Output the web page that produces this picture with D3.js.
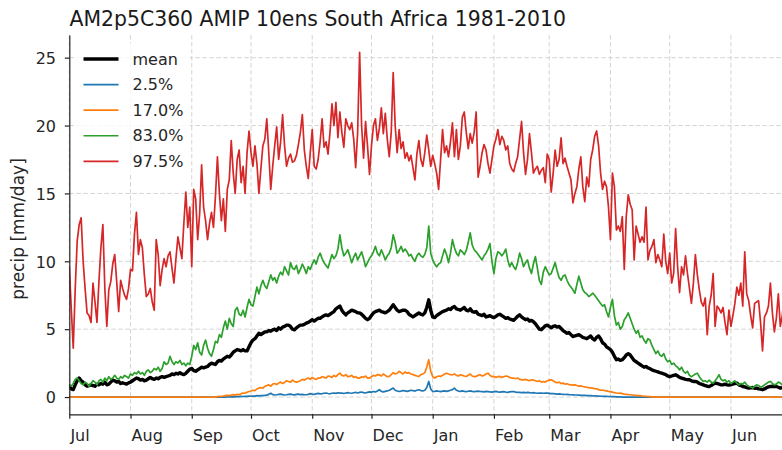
<!DOCTYPE html>
<html>
<head>
<meta charset="utf-8">
<script src="https://cdn.jsdelivr.net/npm/d3@7"></script>
<style>
  body { margin: 0; background: #fff; }
  svg { display: block; font-family: "DejaVu Sans", sans-serif; }
</style>
</head>
<body>
<svg id="chart" width="782" height="450"></svg>
<script>
// Daily climatology, 1 Jul (day 0) .. 30 Jun (day 364), mm/day
const monthLabels = ["Jul","Aug","Sep","Oct","Nov","Dec","Jan","Feb","Mar","Apr","May","Jun"];
const monthStartDays = [0,31,62,92,123,153,184,215,243,274,304,335];
const yTicks = [0,5,10,15,20,25];
const seriesNames = ["mean","2.5%","17.0%","83.0%","97.5%"];

const meanPrecip = [
0.8,0.6,0.55,0.9,1.2,1.4,1.2,1.1,0.9,0.8,
0.85,0.9,0.85,0.8,0.95,0.9,1.0,0.95,1.1,0.9,
0.95,1.1,1.25,1.2,1.1,1.15,1.0,1.05,1.0,0.95,
1.05,1.1,1.2,1.3,1.4,1.35,1.25,1.3,1.2,1.25,
1.35,1.45,1.35,1.3,1.4,1.35,1.45,1.5,1.45,1.5,
1.55,1.6,1.7,1.65,1.75,1.7,1.8,1.7,1.65,1.75,
1.9,2.05,2.1,1.95,1.9,2.0,2.1,2.2,2.15,2.2,
2.25,2.4,2.5,2.45,2.4,2.6,2.7,2.65,2.8,2.9,
3.0,2.95,3.1,3.3,3.4,3.5,3.45,3.4,3.5,3.4,
3.4,3.7,4.0,4.2,4.3,4.5,4.7,4.6,4.7,4.8,
4.8,4.9,4.85,4.95,5.0,4.9,5.1,5.0,5.15,5.2,
5.3,5.3,5.2,5.0,4.95,5.1,5.2,5.3,5.3,5.35,
5.45,5.5,5.6,5.7,5.6,5.7,5.8,5.8,5.9,6.0,
6.05,6.0,6.1,6.2,6.3,6.5,6.6,6.7,6.4,6.2,
6.05,6.2,6.3,6.4,6.35,6.3,6.2,6.2,6.1,5.95,
5.8,5.7,5.8,6.0,6.2,6.3,6.35,6.4,6.3,6.25,
6.2,6.3,6.4,6.6,6.8,6.6,6.4,6.3,6.35,6.4,
6.4,6.3,6.1,6.0,5.9,6.0,6.1,6.2,6.1,6.05,
6.2,6.6,7.16,6.4,5.9,5.85,6.0,6.1,6.2,6.3,
6.35,6.4,6.5,6.45,6.6,6.67,6.5,6.45,6.4,6.5,
6.6,6.4,6.35,6.5,6.3,6.25,6.3,6.1,6.05,6.0,
6.1,5.9,5.95,6.0,5.9,5.85,5.95,6.05,6.1,6.0,
5.9,5.8,5.85,5.75,5.7,5.65,5.8,5.95,6.06,5.9,
5.8,5.7,5.75,5.6,5.65,5.55,5.4,5.2,5.0,4.96,
5.1,5.25,5.3,5.2,5.1,5.2,5.25,5.15,5.2,5.05,
4.9,4.8,4.7,4.75,4.6,4.46,4.5,4.55,4.6,4.5,
4.4,4.35,4.3,4.4,4.5,4.3,4.2,4.4,4.5,4.3,
4.0,3.9,3.7,3.6,3.5,3.3,3.0,2.75,2.8,2.7,
2.75,2.9,3.1,3.2,3.1,2.9,2.7,2.6,2.5,2.4,
2.3,2.2,2.25,2.15,2.1,2.0,1.95,1.9,1.85,1.8,
1.76,1.7,1.65,1.55,1.5,1.55,1.6,1.64,1.55,1.45,
1.4,1.35,1.3,1.28,1.27,1.2,1.15,1.15,1.1,1.0,
0.95,0.9,0.85,0.8,0.78,0.85,0.95,1.03,1.0,0.95,
0.9,0.9,0.95,0.9,0.88,0.92,0.95,1.0,1.03,0.9,
0.85,0.78,0.75,0.7,0.66,0.68,0.7,0.65,0.66,0.6,
0.58,0.54,0.6,0.68,0.75,0.78,0.8,0.78,0.78,0.72,
0.66,0.7,0.75,0.72,0.75
];

const pct025 = [
0,0,0,0,0,0,0,0,0,0,
0,0,0,0,0,0,0,0,0,0,
0,0,0,0,0,0,0,0,0,0,
0,0,0,0,0,0,0,0,0,0,
0,0,0,0,0,0,0,0,0,0,
0,0,0,0,0,0,0,0,0,0,
0,0,0,0,0,0,0,0,0,0,
0,0,0,0,0,0,0,0,0,0,
0.01,0.02,0.01,0.03,0.02,0.04,0.03,0.05,0.04,0.06,
0.05,0.07,0.06,0.08,0.07,0.1,0.09,0.11,0.1,0.12,
0.14,0.2,0.28,0.18,0.15,0.17,0.2,0.22,0.18,0.15,
0.17,0.2,0.22,0.18,0.16,0.2,0.22,0.18,0.2,0.17,
0.17,0.2,0.25,0.22,0.2,0.24,0.27,0.23,0.25,0.28,
0.3,0.26,0.24,0.28,0.3,0.27,0.32,0.29,0.3,0.26,
0.3,0.33,0.3,0.28,0.32,0.35,0.3,0.34,0.37,0.33,
0.3,0.35,0.38,0.36,0.41,0.38,0.45,0.54,0.42,0.38,
0.42,0.45,0.5,0.58,0.66,0.5,0.45,0.41,0.44,0.48,
0.45,0.42,0.46,0.5,0.48,0.44,0.5,0.54,0.48,0.45,
0.5,0.7,1.15,0.6,0.41,0.42,0.45,0.43,0.4,0.44,
0.45,0.42,0.46,0.5,0.55,0.66,0.5,0.44,0.42,0.45,
0.42,0.4,0.43,0.45,0.42,0.4,0.42,0.44,0.41,0.4,
0.38,0.42,0.4,0.38,0.36,0.4,0.42,0.38,0.36,0.38,
0.4,0.37,0.35,0.38,0.4,0.41,0.36,0.34,0.35,0.33,
0.34,0.32,0.35,0.33,0.3,0.32,0.3,0.28,0.3,0.29,
0.28,0.3,0.29,0.27,0.25,0.26,0.24,0.22,0.23,0.21,
0.2,0.19,0.2,0.18,0.17,0.16,0.15,0.15,0.14,0.13,
0.12,0.12,0.11,0.1,0.1,0.09,0.08,0.08,0.07,0.06,
0.06,0.05,0.05,0.04,0.04,0.03,0.03,0.02,0.02,0.01,
0,0,0,0,0,0,0,0,0,0,
0,0,0,0,0,0,0,0,0,0,
0,0,0,0,0,0,0,0,0,0,
0,0,0,0,0,0,0,0,0,0,
0,0,0,0,0,0,0,0,0,0,
0,0,0,0,0,0,0,0,0,0,
0,0,0,0,0,0,0,0,0,0,
0,0,0,0,0,0,0,0,0,0,
0,0,0,0,0
];

const pct170 = [
0,0,0,0,0,0,0,0,0,0,
0,0,0,0,0,0,0,0,0,0,
0,0,0,0,0,0,0,0,0,0,
0,0,0,0,0,0,0,0,0,0,
0,0,0,0,0,0,0,0,0,0,
0,0,0,0,0,0,0,0,0,0,
0,0,0,0,0,0,0,0,0,0,
0,0,0,0,0,0.03,0.05,0.04,0.08,0.1,
0.12,0.1,0.15,0.18,0.14,0.2,0.17,0.25,0.3,0.28,
0.35,0.41,0.45,0.5,0.48,0.6,0.66,0.7,0.65,0.78,
0.85,0.9,0.8,0.95,1.0,0.92,1.03,1.1,1.0,1.08,
1.2,1.15,1.1,1.25,1.15,1.1,1.15,1.2,1.3,1.25,
1.35,1.4,1.3,1.45,1.35,1.3,1.4,1.4,1.5,1.45,
1.4,1.55,1.52,1.45,1.6,1.5,1.65,1.76,1.6,1.55,
1.65,1.5,1.52,1.6,1.45,1.5,1.4,1.4,1.5,1.45,
1.55,1.4,1.4,1.5,1.6,1.55,1.65,1.64,1.55,1.7,
1.6,1.5,1.52,1.65,1.8,1.7,1.75,1.9,1.8,1.7,
1.85,1.76,1.8,1.7,1.65,1.6,1.55,1.52,1.65,1.7,
1.8,2.2,2.75,1.9,1.5,1.4,1.5,1.55,1.52,1.6,
1.7,1.76,1.7,1.65,1.64,1.7,1.6,1.55,1.64,1.6,
1.55,1.52,1.6,1.7,1.55,1.5,1.52,1.6,1.64,1.55,
1.6,1.7,1.76,1.6,1.5,1.52,1.45,1.5,1.52,1.45,
1.5,1.55,1.52,1.45,1.4,1.4,1.35,1.4,1.3,1.27,
1.27,1.3,1.25,1.2,1.27,1.25,1.2,1.15,1.2,1.1,
1.15,1.1,1.2,1.25,1.27,1.2,1.1,1.05,1.1,1.0,
1.03,0.95,0.98,0.92,0.9,0.88,0.9,0.85,0.8,0.82,
0.78,0.75,0.72,0.7,0.68,0.66,0.62,0.6,0.55,0.5,
0.52,0.48,0.45,0.42,0.4,0.36,0.33,0.3,0.28,0.29,
0.25,0.22,0.2,0.18,0.17,0.15,0.12,0.12,0.1,0.1,
0.08,0.06,0.05,0.04,0.03,0.02,0.02,0.01,0,0,
0,0,0,0,0,0,0,0,0,0,
0,0,0,0,0,0,0,0,0,0,
0,0,0,0,0,0,0,0,0,0,
0,0,0,0,0,0,0,0,0,0,
0,0,0,0,0,0,0,0,0,0,
0,0,0,0,0,0,0,0,0,0,
0,0,0,0,0
];

const pct830 = [
0.9,0.8,1.0,1.3,1.4,1.2,1.0,0.9,1.1,1.0,
0.8,1.0,1.2,1.1,0.9,1.2,1.3,1.1,1.4,1.2,
1.5,1.3,1.4,1.6,1.4,1.3,1.5,1.4,1.6,1.5,
1.4,1.7,1.6,1.8,1.7,1.9,1.7,1.8,1.6,1.9,
2.0,1.8,1.9,2.1,2.0,2.2,1.9,2.1,2.6,2.4,
2.5,3.0,2.6,2.4,2.6,2.5,2.7,2.4,2.5,2.3,
2.5,2.4,3.0,3.8,3.5,4.0,3.3,3.1,3.8,4.2,
3.6,3.2,3.0,3.5,4.1,4.0,4.6,4.4,5.1,5.6,
5.0,5.8,5.4,5.2,6.4,6.6,6.1,6.0,6.4,5.9,
6.6,7.2,6.8,6.7,7.4,8.1,7.6,8.2,8.6,8.2,
8.0,8.5,9.0,8.6,8.8,8.4,8.9,9.2,9.0,9.6,
9.3,9.0,9.9,9.5,9.4,9.7,9.1,9.4,9.8,9.5,
9.1,9.6,9.4,9.8,10.1,9.8,10.3,10.6,10.2,9.9,
9.7,9.5,10.0,10.5,10.2,10.4,10.9,11.95,11.0,10.4,
10.6,10.85,10.4,9.9,10.3,10.6,10.1,10.4,10.7,10.2,
9.6,9.9,10.2,10.4,10.7,11.1,10.6,10.4,10.85,10.5,
10.1,10.4,10.6,11.0,11.95,11.4,10.6,10.8,11.1,10.7,
10.9,10.7,10.4,10.5,10.2,10.0,10.4,10.6,10.4,10.3,
10.5,11.0,12.6,10.6,10.1,9.8,9.6,9.8,9.9,10.4,
10.9,10.5,9.9,10.6,11.6,11.0,10.6,10.4,10.85,10.7,
10.5,10.8,11.4,12.1,11.2,10.85,10.7,10.5,10.3,10.1,
10.4,10.6,10.9,11.3,10.0,9.1,10.2,10.7,10.6,10.4,
10.6,10.9,10.1,9.6,9.9,9.6,9.4,9.9,10.6,10.2,
9.6,9.9,10.1,9.5,9.1,9.8,10.35,9.5,8.6,8.3,
9.2,9.6,9.3,9.0,9.1,9.5,9.9,9.3,8.8,8.6,
8.9,9.0,8.6,8.3,8.1,7.9,7.65,8.3,8.9,8.4,
7.9,7.7,7.6,7.4,7.5,7.65,7.5,7.3,7.1,6.9,
6.7,6.8,6.3,5.9,6.6,7.2,6.0,5.3,5.5,5.0,
5.2,5.7,5.9,6.2,5.8,5.4,5.0,4.7,4.9,4.4,
4.5,4.2,3.97,4.3,4.2,3.8,3.5,3.2,3.4,3.1,
3.0,3.2,2.8,2.6,2.7,2.4,2.5,2.3,2.2,2.0,
2.2,1.9,1.76,1.9,1.6,1.5,1.6,1.7,1.76,1.5,
1.3,1.15,1.2,1.1,1.25,1.1,1.03,1.2,1.4,1.64,
1.3,1.2,1.27,1.1,1.2,1.0,1.1,1.2,1.03,0.9,
1.0,0.95,1.1,0.9,0.8,0.75,0.66,0.8,0.9,0.85,
0.75,0.78,0.9,1.0,1.1,1.15,1.0,0.9,0.95,1.1,
1.03,0.9,1.0,0.95,1.0
];

const pct975 = [
9.6,6.5,3.6,8.0,11.5,12.7,13.2,10.0,8.0,6.2,
6.0,5.5,8.4,7.0,5.5,8.5,11.0,12.7,8.0,5.2,
7.9,8.5,9.8,10.5,8.5,6.3,8.6,8.0,7.5,7.2,
8.0,9.4,9.3,12.0,13.6,10.5,11.6,11.0,9.0,7.4,
7.6,8.0,7.0,6.4,11.6,10.5,8.2,9.4,10.2,9.6,
10.4,10.7,9.5,8.4,10.2,11.8,11.0,10.2,12.8,15.1,
12.5,14.0,9.6,15.3,14.6,11.6,13.5,17.1,14.0,13.0,
11.6,12.8,13.6,12.5,14.8,17.7,15.0,13.0,14.6,12.2,
15.3,16.0,18.9,16.5,15.0,17.5,18.2,15.8,17.0,15.0,
18.0,19.6,18.0,17.0,18.5,17.2,15.0,16.8,18.5,19.0,
20.5,18.0,15.3,17.0,18.5,19.9,17.5,18.8,20.8,18.5,
17.0,17.6,17.9,17.3,17.4,17.8,18.6,19.5,20.8,18.2,
17.0,16.1,18.0,19.7,17.0,16.8,17.5,18.8,20.5,18.4,
18.8,17.9,19.5,21.6,20.0,21.7,19.1,21.0,19.5,18.4,
20.5,20.0,19.7,20.2,19.0,16.9,19.5,25.4,20.0,17.6,
20.3,18.5,16.4,18.5,20.0,20.5,18.9,19.8,21.3,19.4,
20.9,19.0,17.7,19.5,23.9,20.0,18.0,19.7,18.3,18.8,
17.6,18.0,17.4,17.8,16.9,16.0,17.9,18.9,17.5,17.0,
18.0,19.3,18.2,17.0,17.8,17.2,16.5,15.3,17.5,19.7,
18.0,18.5,17.7,18.8,20.2,17.7,19.7,17.5,18.5,20.6,
21.0,19.5,18.3,19.4,18.7,19.5,21.0,16.2,17.0,18.0,
18.6,18.2,17.2,16.5,17.5,18.5,19.0,19.7,18.6,19.2,
18.9,18.2,18.5,17.2,16.8,16.6,17.2,17.7,19.0,20.3,
18.0,16.4,17.5,19.4,18.0,16.5,16.8,17.0,16.4,16.7,
16.9,15.8,17.9,17.5,15.1,16.5,18.2,17.0,17.5,19.1,
17.2,17.6,17.0,16.5,16.0,14.3,15.0,15.5,16.8,17.7,
15.5,14.4,16.2,15.5,17.5,18.2,19.2,19.6,18.5,16.5,
15.3,15.9,15.5,14.0,11.6,16.5,15.5,12.3,12.6,12.2,
13.3,9.4,13.3,14.9,14.2,13.8,10.1,12.6,12.0,11.4,
11.8,11.4,14.0,10.1,10.8,11.1,11.6,9.9,10.5,10.1,
9.6,12.0,10.0,9.1,10.6,8.4,9.1,12.4,9.6,7.7,
9.6,9.0,10.4,9.1,8.0,6.9,8.4,10.5,9.0,7.9,
7.0,6.7,7.3,4.6,6.7,7.5,9.1,5.2,6.7,6.5,
6.2,6.6,5.5,4.6,6.4,5.2,6.0,6.9,8.1,7.5,
8.4,6.7,10.7,7.6,7.1,6.0,5.1,6.9,7.0,7.1,
5.5,3.4,5.9,6.2,6.7,8.4,6.2,4.8,5.8,7.6,
5.2,6.0,7.5,6.8,7.4
];

const seriesValues = [meanPrecip, pct025, pct170, pct830, pct975];
const seriesColors = ["#000000", "#1f77b4", "#ff7f0e", "#2ca02c", "#d62728"];
const seriesWidths = [3.4, 1.7, 1.7, 1.7, 1.7];

const svg = d3.select("#chart");
const plotLeft = 69.3, plotRight = 788.2, plotTop = 35, plotBottom = 414.3;

const x = d3.scaleLinear().domain([0, 364]).range([plotLeft, plotRight]);
const y = d3.scaleLinear().domain([-1.27, 26.67]).range([plotBottom, plotTop]);

svg.append("rect").attr("width", 782).attr("height", 450).attr("fill", "#fff");

svg.append("defs").append("clipPath").attr("id", "plotClip")
  .append("rect").attr("x", plotLeft).attr("y", plotTop)
  .attr("width", plotRight - plotLeft).attr("height", plotBottom - plotTop);

// grid
const grid = svg.append("g").attr("class", "grid");
grid.selectAll("line.v").data(monthStartDays).join("line").attr("class", "v")
  .attr("x1", d => x(d)).attr("x2", d => x(d))
  .attr("y1", plotTop).attr("y2", plotBottom);
grid.selectAll("line.h").data(yTicks).join("line").attr("class", "h")
  .attr("x1", plotLeft).attr("x2", plotRight)
  .attr("y1", d => y(d)).attr("y2", d => y(d));
grid.selectAll("line")
  .attr("stroke", "#cfcfcf").attr("stroke-width", 0.9)
  .attr("stroke-dasharray", "4.5,2.5");

// series
const line = d3.line().x((d, i) => x(i)).y(d => y(d));
const lines = svg.append("g").attr("clip-path", "url(#plotClip)");
seriesValues.forEach((vals, k) => {
  lines.append("path").datum(vals)
    .attr("d", line)
    .attr("fill", "none")
    .attr("stroke", seriesColors[k])
    .attr("stroke-width", seriesWidths[k])
    .attr("stroke-linejoin", "round")
    .attr("stroke-linecap", "square");
});

// axes
const textColor = "#262626";
const xAxis = svg.append("g").attr("transform", `translate(0,${plotBottom})`)
  .call(d3.axisBottom(x).tickValues(monthStartDays)
    .tickFormat((d, i) => monthLabels[i]).tickSize(4.5).tickSizeOuter(0));
xAxis.select(".domain").attr("stroke", "#222").attr("stroke-width", 1.2);
xAxis.selectAll(".tick line").attr("stroke", "#222").attr("stroke-width", 1.2);
xAxis.selectAll(".tick text")
  .attr("text-anchor", "start").attr("x", 0.6).attr("y", 26.8).attr("dy", null)
  .attr("fill", textColor).style("font-size", "16px")
  .style("font-family", '"DejaVu Sans", sans-serif');

const yAxis = svg.append("g").attr("transform", `translate(${plotLeft},0)`)
  .call(d3.axisLeft(y).tickValues(yTicks).tickSize(4.5).tickSizeOuter(0));
yAxis.select(".domain").attr("stroke", "#222").attr("stroke-width", 1.2);
yAxis.selectAll(".tick line").attr("stroke", "#222").attr("stroke-width", 1.2);
yAxis.selectAll(".tick text")
  .attr("x", -13.3).attr("dy", "0.36em")
  .attr("fill", textColor).style("font-size", "16px")
  .style("font-family", '"DejaVu Sans", sans-serif');

// y label
svg.append("text")
  .attr("transform", "translate(24,229) rotate(-90)")
  .attr("text-anchor", "middle")
  .attr("fill", textColor)
  .style("font-size", "17px")
  .text("precip [mm/day]");

// title
svg.append("text")
  .attr("x", 69.5).attr("y", 25.5)
  .attr("fill", "#1a1a1a")
  .style("font-size", "20.4px")
  .text("AM2p5C360 AMIP 10ens South Africa 1981-2010");

// legend
const legend = svg.append("g");
legend.append("rect")
  .attr("x", 76).attr("y", 43).attr("width", 114).attr("height", 132)
  .attr("rx", 3).attr("fill", "#fff").attr("fill-opacity", 0.8);
const legendRowY = d3.scaleLinear().domain([0, 4]).range([59, 161.3]);
seriesNames.forEach((name, k) => {
  const yy = legendRowY(k);
  legend.append("line")
    .attr("x1", 83.5).attr("x2", 118.5).attr("y1", yy).attr("y2", yy)
    .attr("stroke", seriesColors[k]).attr("stroke-width", seriesWidths[k]);
  legend.append("text")
    .attr("x", 132.5).attr("y", yy).attr("dy", "0.36em")
    .attr("fill", textColor).style("font-size", "16px")
    .text(name);
});
</script>
</body>
</html>
